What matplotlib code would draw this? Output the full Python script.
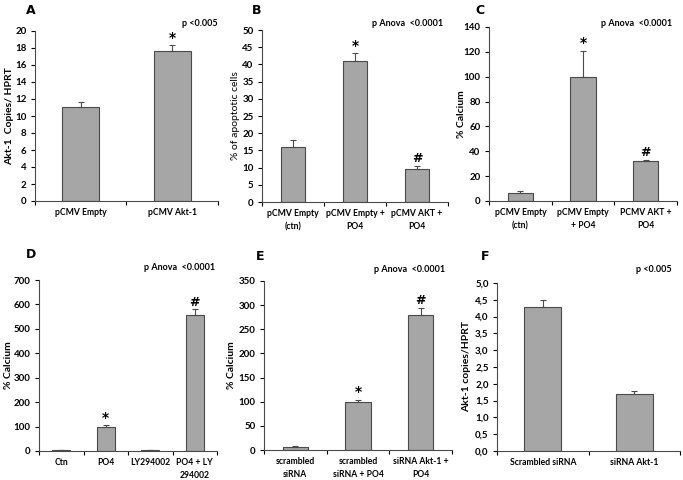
import matplotlib
matplotlib.use("Agg")
import matplotlib.pyplot as plt

plt.rcParams['font.family'] = ['Lato', 'DejaVu Sans']
plt.rcParams['font.weight'] = 'bold'

# ---- data ----
a_cats = ["pCMV Empty", "pCMV Akt-1"]
a_vals = [11.0, 17.6]
a_err = [0.6, 0.7]
a_marks = ["", "*"]

b_cats = ["pCMV Empty\n(ctn)", "pCMV Empty +\nPO4", "pCMV AKT +\nPO4"]
b_vals = [16.0, 41.0, 9.5]
b_err = [2.0, 2.2, 1.0]
b_marks = ["", "*", "#"]

c_cats = ["pCMV Empty\n(ctn)", "pCMV Empty\n+ PO4", "PCMV AKT +\nPO4"]
c_vals = [6.5, 100.0, 32.0]
c_err = [1.8, 21.0, 1.0]
c_marks = ["", "*", "#"]

d_cats = ["Ctn", "PO4", "LY294002", "PO4 + LY\n294002"]
d_vals = [3.0, 100.0, 3.0, 558.0]
d_err = [0.5, 5.0, 0.5, 22.0]
d_marks = ["", "*", "", "#"]

e_cats = ["scrambled\nsiRNA", "scrambled\nsiRNA + PO4", "siRNA Akt-1 +\nPO4"]
e_vals = [7.0, 100.0, 280.0]
e_err = [2.0, 4.0, 15.0]
e_marks = ["", "*", "#"]

f_cats = ["Scrambled siRNA", "siRNA Akt-1"]
f_vals = [4.3, 1.7]
f_err = [0.2, 0.1]
f_marks = ["", ""]

W, H = 683, 480
fig = plt.figure(figsize=(W / 100, H / 100), dpi=100)


def px_axes(left, right, top, bottom):
    return fig.add_axes([left / W, (H - bottom) / H, (right - left) / W, (bottom - top) / H])


def panel(rect, cats, vals, errs, marks, ymax, ystep, ylabel, letter, ptext,
          letter_pos, p_pos, ylabel_x, ylabel_weight='bold', comma=False):
    ax = px_axes(*rect)
    n = len(cats)
    xs = [i + 0.5 for i in range(n)]
    ax.bar(xs, vals, width=0.4, color='#a6a6a6', edgecolor='#4a4a4a', linewidth=0.8, zorder=2)
    ax.errorbar(xs, vals, yerr=[[0] * n, errs], fmt='none', ecolor='#4a4a4a',
                elinewidth=0.8, capsize=2.5, capthick=0.8, zorder=3)
    for x, v, e, m in zip(xs, vals, errs, marks):
        if m:
            ax.text(x, v + e + ymax * 0.003, m, ha='center', va='bottom',
                    fontsize=10 if m == '*' else 9, fontweight='bold', family='DejaVu Sans')
    ax.set_xlim(0, n)
    ax.set_ylim(0, ymax)
    ticks = [ystep * k for k in range(int(round(ymax / ystep)) + 1)]
    ax.set_yticks(ticks)
    if comma:
        ax.set_yticklabels([f"{t:.1f}".replace('.', ',') for t in ticks])
    else:
        ax.set_yticklabels([f"{t:g}" for t in ticks])
    ax.set_xticks(list(range(n + 1)))
    ax.set_xticklabels([])
    ax.set_xticks(xs, minor=True)
    ax.set_xticklabels(cats, minor=True, fontsize=6.2, fontweight='bold', linespacing=1.6)
    ax.tick_params(axis='x', which='minor', length=0, pad=5)
    ax.tick_params(axis='x', which='major', length=3, width=0.8, direction='out')
    ax.tick_params(axis='y', length=3, width=0.8, labelsize=7, pad=3)
    for lab in ax.get_yticklabels():
        lab.set_fontweight('bold')
    for s in ['top', 'right']:
        ax.spines[s].set_visible(False)
    for s in ['left', 'bottom']:
        ax.spines[s].set_linewidth(0.8)
        ax.spines[s].set_color('#4a4a4a')
    ymid = (rect[2] + rect[3]) / 2
    fig.text(ylabel_x / W, 1 - ymid / H, ylabel, rotation=90, fontsize=7.5,
             fontweight=ylabel_weight, ha='center', va='center')
    fig.text(letter_pos[0] / W, 1 - letter_pos[1] / H, letter, fontsize=9, fontweight='bold',
             ha='left', va='center', family='DejaVu Sans')
    fig.text(p_pos[0] / W, 1 - p_pos[1] / H, ptext, fontsize=6.5, fontweight='bold',
             ha='right', va='center')
    return ax


panel((35, 218, 31, 201), a_cats, a_vals, a_err, a_marks, 20, 2,
      "Akt-1  Copies/ HPRT", "A", "p <0.005", (26, 11), (218, 23), 10)
panel((262, 448, 30, 202), b_cats, b_vals, b_err, b_marks, 50, 5,
      "% of apoptotic cells", "B", "p Anova  <0.0001", (252, 11), (443, 24), 235,
      ylabel_weight='normal')
panel((489, 677, 27, 201), c_cats, c_vals, c_err, c_marks, 140, 20,
      "% Calcium", "C", "p Anova  <0.0001", (475, 11), (672, 23), 461)
panel((39, 217, 280, 451), d_cats, d_vals, d_err, d_marks, 700, 100,
      "% Calcium", "D", "p Anova  <0.0001", (26, 255), (215, 268), 9)
panel((264, 452, 281, 450), e_cats, e_vals, e_err, e_marks, 350, 50,
      "% Calcium", "E", "p Anova  <0.0001", (256, 257), (445, 270), 232)
panel((497, 680, 283, 451), f_cats, f_vals, f_err, f_marks, 5.0, 0.5,
      "Akt-1 copies/HPRT", "F", "p <0.005", (481, 257), (672, 270), 467, comma=True)

fig.savefig("out.png", dpi=100)
